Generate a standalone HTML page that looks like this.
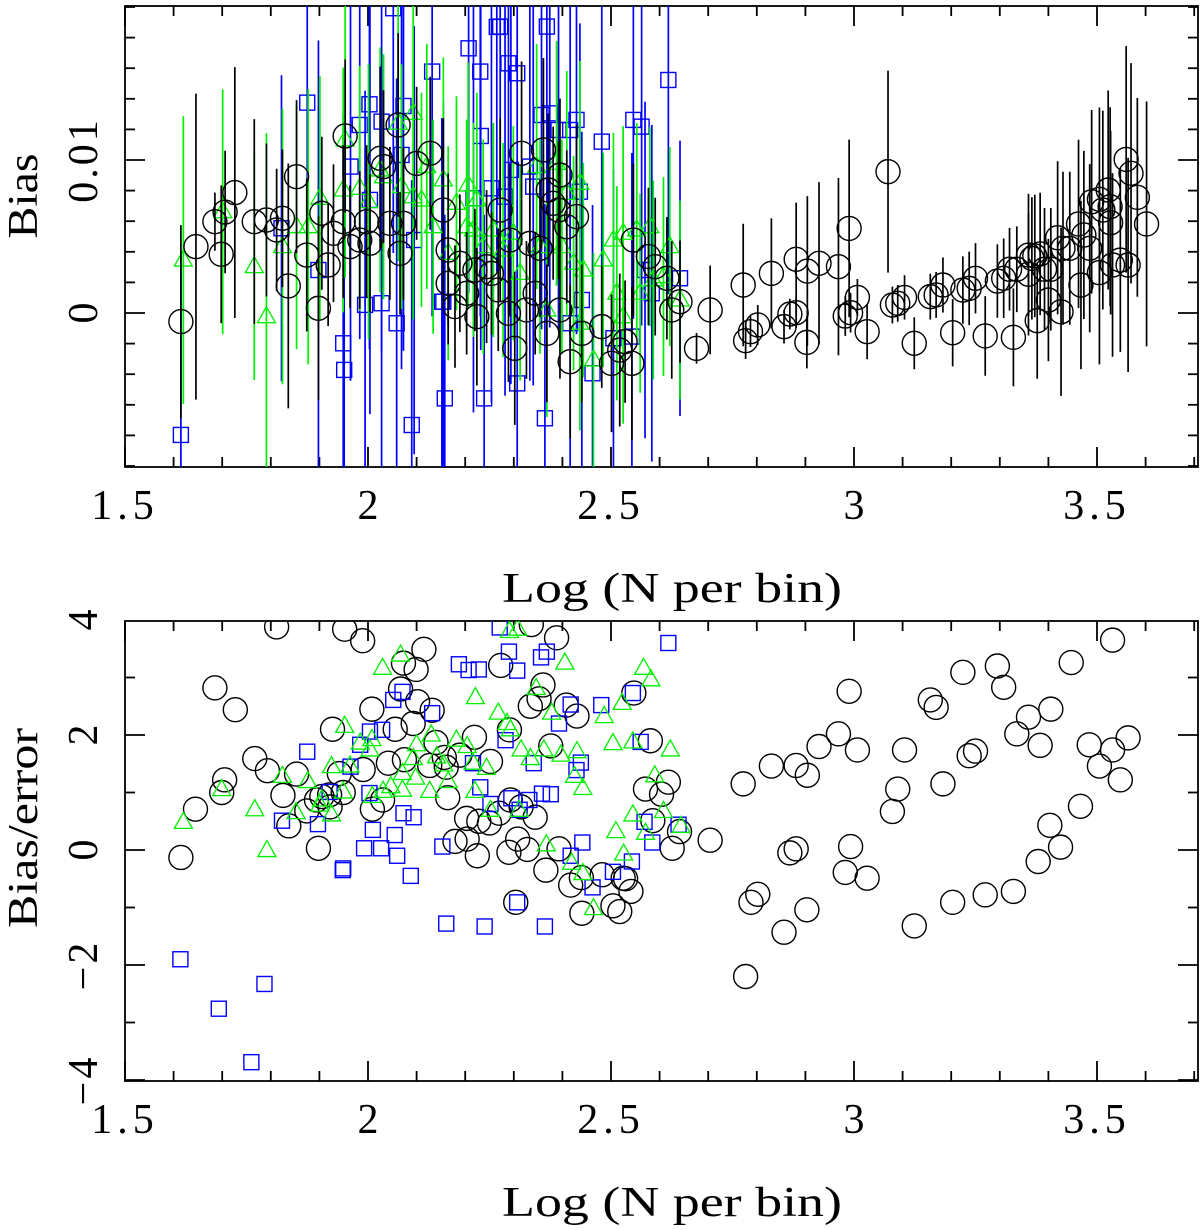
<!DOCTYPE html>
<html><head><meta charset="utf-8"><style>
html,body{margin:0;padding:0;background:#fff;}
svg text{font-family:"Liberation Serif",serif;fill:#000;}
</style></head><body>
<svg id="chart" width="1200" height="1225" viewBox="0 0 1200 1225" xmlns="http://www.w3.org/2000/svg">
<defs>
<clipPath id="clipTop"><rect x="125" y="6" width="1073" height="461"/></clipPath>
<clipPath id="clipBot"><rect x="125" y="621" width="1073" height="460"/></clipPath>
</defs>
<g id="topPanel"></g>
<g id="botPanel"></g>
</svg>
<script>
// ---- axis tick data ----
const xMajorTicks=[1.5,2,2.5,3,3.5];
const xTickLabels=["1.5","2","2.5","3","3.5"];
const biasMajorTicks=[0,0.01];
const biasTickLabels=["0","0.01"];
const ratioMajorTicks=[-4,-2,0,2,4];
const ratioTickLabels=["\u22124","\u22122","0","2","4"];

// ---- top panel data (bias in units of 1e-3) ----
const blackX=[1.615,1.646,1.685,1.698,1.706,1.726,1.766,1.791,1.812,1.824,1.836,1.853,1.874,1.898,1.905,1.918,1.929,1.949,1.963,1.983,1.997,1.953,2.004,2.025,2.032,2.045,2.062,2.073,2.066,2.100,2.128,2.155,2.165,2.165,2.179,2.189,2.203,2.224,2.220,2.244,2.254,2.272,2.268,2.289,2.292,2.302,2.316,2.326,2.344,2.333,2.354,2.361,2.368,2.371,2.381,2.392,2.395,2.395,2.409,2.416,2.429,2.440,2.481,2.501,2.518,2.529,2.543,2.546,2.577,2.591,2.615,2.625,2.642,2.676,
2.704,2.772,2.777,2.787,2.802,2.830,2.856,2.868,2.881,2.881,2.904,2.903,2.928,2.968,2.982,2.990,2.993,3.007,3.027,3.070,3.079,3.090,3.104,3.124,3.157,3.169,3.183,3.203,3.224,3.237,3.250,3.270,3.295,3.308,3.320,3.328,3.335,3.359,3.359,3.366,3.372,3.377,3.383,3.392,3.400,3.405,3.419,3.430,3.444,3.426,3.462,3.467,3.473,3.485,3.489,3.505,3.505,3.512,3.523,3.527,3.528,3.532,3.548,3.560,3.564,3.570,3.583,3.602];
const blackBias=[-0.56,4.34,5.97,3.84,6.6,7.87,5.97,6.08,5.43,6.19,1.77,8.91,3.79,0.31,6.52,3.14,5.21,5.97,4.34,4.77,5.97,11.57,4.56,10.11,9.57,5.86,12.29,5.86,3.90,9.78,10.44,6.73,4.12,1.94,0.42,3.25,1.29,-0.24,2.81,3.03,2.59,6.73,1.51,-0.02,4.77,-2.31,10.44,0.20,1.29,4.55,4.23,10.66,-1.33,8.04,7.17,6.73,9.02,0.20,5.64,-3.18,6.30,-1.33,-0.89,-3.29,-2.42,-1.87,-3.29,4.77,3.69,3.03,2.27,0.20,0.74,-2.31,
0.20,1.83,-1.81,-1.22,-0.78,2.59,-0.89,-0.07,0.02,3.51,2.74,-1.92,3.25,3.03,-0.20,5.53,0.02,1.02,-1.22,9.24,0.52,0.63,1.02,-1.98,1.07,1.18,1.83,-1.29,1.50,1.61,2.27,-1.50,2.09,2.27,2.86,-1.59,2.86,2.53,3.79,3.57,3.73,-0.50,3.86,2.86,0.85,2.86,4.92,4.23,4.23,0.08,5.82,1.83,5.10,4.23,7.27,7.43,2.64,6.73,8.04,6.95,5.90,3.14,3.46,10.04,3.14,9.13,7.56,5.82];
const blackErr=[6.3,10,1.9,4.5,4,8.2,6.7,5,4,4.5,8,5,5,6,5,4,4.5,5,4,4.5,5,5,4.5,6,5,5,6,5,4,5,5,6,5,4,4,4.5,4,4.5,4,5,4,6,4,4.5,5,5,6,4.5,4,5,4.5,6,4.5,5,5,4.5,5,4.5,5,5,6,4.5,4,4.5,5,4,5,5,4.5,4.5,4,4.5,4,1,
2.9,4,1.2,1,1.3,3.6,1.1,1,1,3.7,4.9,1.7,5.3,5.8,1.3,5.8,1.3,1.2,1.8,6.6,1.2,1.2,1.45,1.7,1.5,1.5,1.8,2.2,2.2,2.4,2.3,2.6,2.4,2.6,2.7,3.2,2.8,4,4,4,4,3.8,4,4,4,4,5,5,5,5.5,5.5,5.5,5.5,5.5,6,6,6,6.5,6.5,6.5,6,6,6,7.4,7,7.2,6.5,8];

const greenX=[1.620,1.701,1.766,1.791,1.824,1.853,1.877,1.901,1.953,1.949,1.983,2.001,2.025,2.032,2.062,2.093,2.069,2.093,2.110,2.121,2.134,2.155,2.165,2.182,2.206,2.224,2.203,2.217,2.237,2.258,2.278,2.299,2.313,2.347,2.354,2.368,2.388,2.399,2.409,2.423,2.436,2.443,2.436,2.464,2.484,2.505,2.512,2.525,2.525,2.553,2.560,2.580,2.587,2.608,2.621,2.642];
const greenBias=[3.46,6.62,3.03,-0.24,4.34,5.64,5.64,7.5,11.31,8.04,8.15,7.28,9.35,8.91,12.4,13.05,8.26,7.6,7.39,9.57,5.64,8.70,3.90,7.17,8.37,7.39,5.64,5.43,4.34,5.43,4.12,5.21,2.59,9.57,4.34,0.20,9.78,4.34,7.82,3.25,8.48,2.81,-0.67,-3.07,3.47,4.77,1.29,5.21,-0.24,5.43,1.29,5.64,2.16,2.38,4.34,0.85];
const greenErr=[9.4,8,7.4,12,9,8,9,8,9,8,8,9,8,8,9,9,8,8,7,8,7,8,7,7,8,7,7,7,7,7,7,7,7,8,7,7,8,7,8,7,8,7,7,7,7,7,7,7,7,7,6.5,6.5,6.5,6.5,6.5,6.5];

const blueX=[1.615,1.822,1.875,1.898,1.949,1.951,1.964,1.983,2.003,2.004,2.028,2.052,1.994,2.028,2.059,2.073,2.069,2.090,2.095,2.132,2.155,2.207,2.231,2.232,2.217,2.254,2.265,2.272,2.289,2.307,2.368,2.357,2.374,2.392,2.416,2.429,2.294,2.282,2.333,2.340,2.481,2.546,2.563,2.618,2.152,2.158,2.239,2.307,2.364,2.440,2.416,2.462,2.505,2.543,2.570,2.584,2.642,2.436];
const blueBias=[-7.97,5.54,13.75,2.81,-1.98,-3.72,9.57,12.29,13.64,7.39,12.51,19.92,0.53,0.64,-0.67,13.53,10.33,-7.32,4.77,15.78,0.74,17.3,15.78,11.57,7.5,8.15,18.7,18.72,16.32,15.67,18.72,12.94,13.05,11.96,11.96,12.62,9.35,7.6,9.57,8.26,11.2,12.62,12.18,15.23,0.74,-5.58,-5.58,-4.6,-6.88,0.85,-0.67,-3.94,-1.65,-1.54,2.81,1.29,2.27,7.93];
const blueErr=[12,10,12,15,15,15,14,14,16,14,15,16,14,15,16,16,14,16,14,16,13,16,16,14,14,14,16,16,16,16,16,14,14,13,13,14,14,13,14,13,14,13,13,14,12,12,12,12,14,11,12,11,11,12,11,11,9,11];

// ---- bottom panel data (bias / error) ----
const blackRx=[1.615,1.645,1.685,1.699,1.705,1.727,1.767,1.793,1.812,1.825,1.837,1.853,1.874,1.894,1.905,1.921,1.922,1.927,1.898,1.941,1.952,1.949,1.989,1.990,2.008,2.009,2.030,2.042,2.056,2.067,2.073,2.075,2.093,2.099,2.102,2.115,2.132,2.127,2.140,2.157,2.164,2.161,2.179,2.189,2.203,2.204,2.219,2.225,2.228,2.250,2.252,2.270,2.273,2.290,2.291,2.293,2.308,2.304,2.315,2.328,2.336,2.334,2.352,2.360,2.344,2.366,2.376,2.388,2.393,2.408,2.430,2.417,2.439,2.440,2.482,2.504,2.525,2.530,2.518,2.541,2.547,2.571,2.604,2.618,2.581,2.586,2.626,2.641,
2.704,2.772,2.777,2.788,2.802,2.830,2.856,2.868,2.881,2.881,2.904,2.903,2.928,2.968,2.982,2.993,2.990,3.007,3.027,3.079,3.090,3.104,3.124,3.157,3.169,3.183,3.203,3.224,3.237,3.250,3.270,3.295,3.308,3.328,3.335,3.359,3.379,3.383,3.403,3.405,3.425,3.447,3.466,3.484,3.505,3.532,3.532,3.548,3.564];
const blackRy=[-0.13,0.71,2.82,1.0,1.22,2.44,1.59,1.38,3.88,0.95,0.42,1.32,0.68,0.87,0.93,0.96,0.75,2.10,0.03,1.33,3.84,1.0,3.64,1.40,2.45,0.71,0.87,1.51,2.10,2.80,3.25,1.57,2.20,3.14,2.58,3.49,2.43,1.47,1.87,1.61,0.91,1.44,0.15,1.65,0.55,0.19,1.96,-0.10,0.50,0.47,1.54,0.64,3.21,-0.04,2.09,0.87,0.19,-0.91,0.75,0.01,3.92,2.50,2.63,2.87,0.57,-0.35,1.81,3.69,0.02,2.52,2.33,-0.61,-0.48,-1.10,-0.43,-0.97,-0.49,-0.50,-1.07,-0.72,2.73,1.06,0.97,1.18,1.9,0.51,0.03,0.32,
0.17,1.15,-2.2,-0.91,-0.77,1.46,-1.43,-0.05,0.02,1.47,1.30,-1.04,1.80,2.02,-0.39,0.06,2.76,1.74,-0.49,0.67,1.06,1.74,-1.32,2.61,2.48,1.15,-0.91,3.09,1.64,1.72,-0.78,3.20,2.83,-0.72,2.02,2.31,-0.20,1.82,0.43,2.45,0.05,3.26,0.76,1.83,1.46,1.74,3.65,1.22,1.95];

const blueRx=[1.614,1.693,1.760,1.787,1.823,1.875,1.897,1.921,1.949,1.948,1.964,1.984,2.003,2.004,2.010,1.992,2.027,2.029,2.052,2.055,2.060,2.071,2.073,2.088,2.094,2.132,2.153,2.161,2.187,2.207,2.228,2.216,2.231,2.240,2.252,2.271,2.283,2.290,2.295,2.307,2.312,2.307,2.332,2.341,2.358,2.376,2.356,2.368,2.364,2.393,2.417,2.417,2.429,2.438,2.441,2.462,2.480,2.504,2.543,2.545,2.561,2.569,2.585,2.618,2.639];
const blueRy=[-1.90,-2.76,-3.69,-2.33,0.51,1.71,0.45,1.01,-0.32,-0.35,1.45,1.83,0.99,2.06,0.35,0.03,0.03,2.09,2.61,0.26,-0.1,2.75,0.64,-0.45,0.57,2.38,0.06,-1.28,3.23,3.13,3.14,1.51,1.09,-1.33,0.80,3.87,1.91,3.45,0.90,3.12,0.70,-0.91,0.87,1.51,0.98,0.97,3.35,3.45,-1.33,2.20,2.53,-0.10,1.39,1.52,0.13,-0.65,2.52,-0.38,-0.20,2.73,1.88,0.49,0.13,3.60,0.44];

const greenRx=[1.620,1.699,1.767,1.792,1.824,1.852,1.876,1.901,1.925,1.925,1.952,1.949,1.963,1.905,1.984,2.008,2.004,2.009,2.030,2.031,2.047,2.071,2.067,2.071,2.098,2.100,2.093,2.127,2.130,2.141,2.156,2.165,2.182,2.204,2.216,2.244,2.220,2.221,2.252,2.268,2.286,2.293,2.291,2.308,2.315,2.334,2.311,2.346,2.362,2.378,2.397,2.430,2.425,2.442,2.405,2.367,2.419,2.442,2.464,2.486,2.504,2.523,2.510,2.526,2.545,2.545,2.567,2.582,2.571,2.590,2.608,2.622,2.644];
const greenRy=[0.48,1.05,0.70,-0.01,1.28,0.65,1.19,0.78,1.45,0.61,2.15,1.01,1.46,0.87,1.86,1.92,1.74,0.93,3.16,1.02,1.10,1.04,3.39,1.33,1.25,1.83,1.59,1.02,2.0,1.62,1.48,1.19,1.91,1.80,1.51,1.42,1.02,2.65,0.69,2.38,2.20,2.09,3.80,3.84,1.74,1.59,0.69,2.81,1.74,2.38,1.65,1.71,1.28,1.07,3.25,0.09,-0.23,-0.41,-1.02,2.32,1.85,2.55,0.32,-0.07,0.61,1.88,3.16,2.96,0.29,1.29,0.67,1.74,0.41];

// ---- geometry ----
const NS="http://www.w3.org/2000/svg";
const L=125,R=1198,TT=6,TB=467,BT=621,BB=1081;
function sx(v){return L+(v-1.5)*486;}
function syTop(v){return 313-v*15300;}
function syBot(v){return 850-v*57.5;}
function mk(tag,attrs,parent){const e=document.createElementNS(NS,tag);for(const k in attrs)e.setAttribute(k,attrs[k]);parent.appendChild(e);return e;}

function frame(g,ptop,pbot,ysc,yMajor,yLabels,yMinorStart,yMinorEnd,yMinorStep,prefix){
  const f=mk('rect',{x:L,y:ptop,width:R-L,height:pbot-ptop,fill:'none',stroke:'#000','stroke-width':1.8},g);
  
  
  const tg=mk('g',{stroke:'#000','stroke-width':1.8},g);
  
  
  for(let i=0;i<=22;i++){
    const v=1.5+i*0.1, x=sx(v);
    const major=(i%5===0), len=major?20:10;
    mk('line',{x1:x,y1:pbot,x2:x,y2:pbot-len},tg);
    mk('line',{x1:x,y1:ptop,x2:x,y2:ptop+len},tg);
  }
  const n=Math.round((yMinorEnd-yMinorStart)/yMinorStep);
  for(let i=0;i<=n;i++){
    const v=yMinorStart+i*yMinorStep, y=ysc(v);
    if(y<ptop-0.5||y>pbot+0.5) continue;
    const major=yMajor.some(m=>Math.abs(m-v)<yMinorStep*0.01), len=major?20:10;
    mk('line',{x1:L,y1:y,x2:L+len,y2:y},tg);
    mk('line',{x1:R,y1:y,x2:R-len,y2:y},tg);
  }
  const xb=pbot+52;
  xMajorTicks.forEach((v,i)=>{
    const t=mk('text',{x:sx(v),y:xb,'font-size':42,'text-anchor':'middle','letter-spacing':xTickLabels[i].length>1?'5':'0'},g);
    t.textContent=xTickLabels[i];
    
    
  });
  yMajor.forEach((v,i)=>{
    const y=ysc(v);
    const t=mk('text',{x:0,y:0,'font-size':42,'text-anchor':'middle','letter-spacing':yLabels[i].length>1?'3':'0',transform:'translate(97,'+y+') rotate(-90)'},g);
    t.textContent=yLabels[i];
    
    
  });
  const xl=mk('text',{x:672,y:pbot+135,'font-size':42,'text-anchor':'middle',textLength:340,lengthAdjust:'spacingAndGlyphs'},g);
  xl.textContent='Log (N per bin)';
  
  
}

function circle(g,x,y,c){mk('circle',{cx:x,cy:y,r:12,fill:'none',stroke:c,'stroke-width':1.4},g);}
function square(g,x,y,c){mk('rect',{x:x-7.5,y:y-7.5,width:15,height:15,fill:'none',stroke:c,'stroke-width':1.4},g);}
function tri(g,x,y,c){mk('polygon',{points:(x-9)+','+(y+6)+' '+(x+9)+','+(y+6)+' '+x+','+(y-10),fill:'none',stroke:c,'stroke-width':1.3},g);}

// ---- top panel ----
const topG=document.getElementById('topPanel');
frame(topG,TT,TB,syTop,biasMajorTicks,biasTickLabels,-0.01,0.02,0.002,'top');
const by=mk('text',{x:0,y:0,'font-size':42,'text-anchor':'middle',textLength:85,lengthAdjust:'spacingAndGlyphs',transform:'translate(37,196) rotate(-90)'},topG);
by.textContent='Bias';



function topSeries(name,xs,bs,es,color,marker){
  const g=mk('g',{'clip-path':'url(#clipTop)'},topG);
  
  
  xs.forEach((xv,i)=>{
    const x=sx(xv), b=bs[i]*1e-3, e=es[i]*1e-3;
    mk('line',{x1:x,y1:syTop(b+e),x2:x,y2:syTop(b-e),stroke:color,'stroke-width':1.7},g);
  });
  xs.forEach((xv,i)=>{marker(g,sx(xv),syTop(bs[i]*1e-3),color);});
}
topSeries('blue-squares-bias',blueX,blueBias,blueErr,'#0000ff',square);
topSeries('green-triangles-bias',greenX,greenBias,greenErr,'#00f000',tri);
topSeries('black-circles-bias',blackX,blackBias,blackErr,'#000',circle);

// ---- bottom panel ----
const botG=document.getElementById('botPanel');
frame(botG,BT,BB,syBot,ratioMajorTicks,ratioTickLabels,-4,4,1,'bottom');
const ry=mk('text',{x:0,y:0,'font-size':42,'text-anchor':'middle',textLength:200,lengthAdjust:'spacingAndGlyphs',transform:'translate(37,828) rotate(-90)'},botG);
ry.textContent='Bias/error';



function botSeries(name,xs,ys,color,marker){
  const g=mk('g',{'clip-path':'url(#clipBot)'},botG);
  
  
  xs.forEach((xv,i)=>{marker(g,sx(xv),syBot(ys[i]),color);});
}
botSeries('black-circles-ratio',blackRx,blackRy,'#000',circle);
botSeries('blue-squares-ratio',blueRx,blueRy,'#0000ff',square);
botSeries('green-triangles-ratio',greenRx,greenRy,'#00f000',tri);
</script>
</body></html>
